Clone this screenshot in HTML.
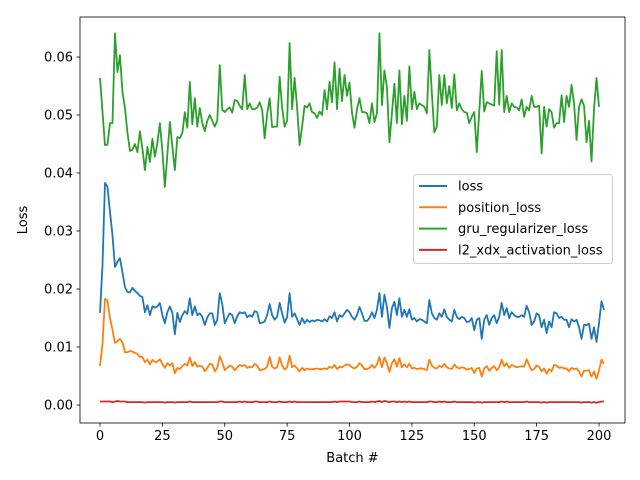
<!DOCTYPE html>
<html><head><meta charset="utf-8"><style>
html,body{margin:0;padding:0;background:#fff;}
svg{display:block;font-family:"DejaVu Sans","Liberation Sans",sans-serif;}
</style></head><body>
<svg id="chart" width="640" height="480" viewBox="0 0 640 480" xmlns="http://www.w3.org/2000/svg">
<rect x="0" y="0" width="640" height="480" fill="#fff"/>
<g id="plot"></g>
</svg>
<script>
const xTicks = [0,25,50,75,100,125,150,175,200];
const yTicks = [0,0.01,0.02,0.03,0.04,0.05,0.06];
const yTickLabels = ["0.00","0.01","0.02","0.03","0.04","0.05","0.06"];
const seriesNames = ["loss","position_loss","gru_regularizer_loss","l2_xdx_activation_loss"];
const lossValues = [.0159,.0241,.0383,.0376,.0333,.0293,.0238,.0247,.0253,.0229,.0203,.0195,.0194,.0202,.0197,.0193,.0188,.0186,.016,.0172,.0155,.017,.0168,.017,.0176,.0155,.0141,.016,.017,.0159,.0122,.0159,.0143,.0155,.0162,.0157,.0184,.0155,.017,.0155,.0158,.0152,.0138,.0151,.0158,.0158,.0138,.0147,.0193,.0174,.0141,
.015,.0158,.0155,.0141,.0153,.016,.0158,.016,.0151,.0155,.0152,.0162,.016,.0141,.0142,.0144,.0155,.0174,.0155,.0147,.0152,.0176,.0158,.0142,.0152,.0193,.0152,.0158,.0148,.0138,.015,.0141,.0147,.0143,.0146,.0144,.0147,.0146,.0144,.0148,.0144,.0153,.015,.016,.0144,.0155,.0152,.0158,.0164,.016,
.0152,.0147,.0155,.0169,.0158,.0145,.0145,.015,.016,.015,.0164,.0193,.0152,.019,.0169,.0133,.0167,.0178,.0155,.0184,.0152,.0164,.0152,.0165,.0147,.015,.0144,.0148,.0147,.0144,.0141,.0181,.0158,.015,.0147,.0158,.0152,.0165,.0152,.0147,.0144,.0164,.0152,.0148,.0152,.015,.0143,.0144,.015,.0129,
.0147,.015,.0114,.0147,.0155,.0138,.015,.0155,.0141,.0152,.0176,.0155,.0167,.015,.016,.0155,.0152,.0152,.0155,.0152,.0171,.016,.0138,.0144,.0158,.0155,.0134,.0147,.0124,.0144,.0134,.016,.0158,.015,.0152,.0147,.0147,.0134,.0148,.0144,.0147,.0134,.0114,.0138,.0138,.014,.0114,.0134,.0109,.0141,.0179,.0164];
const positionValues = [.0067,.0105,.0183,.018,.015,.013,.0107,.011,.0114,.0108,.0091,.0091,.0093,.0092,.009,.0088,.0083,.0083,.0074,.0078,.007,.0078,.0074,.0075,.0079,.0071,.0064,.0072,.0068,.0072,.0055,.0064,.0062,.0067,.0071,.0068,.0082,.0067,.0074,.0066,.0068,.0066,.0058,.0064,.0071,.007,.0058,.0064,.0084,.0074,.006,
.0064,.0068,.0066,.006,.0065,.0069,.0067,.0069,.0064,.0066,.0065,.0071,.0068,.006,.0061,.0062,.0066,.0083,.0066,.0063,.0065,.0082,.0068,.0061,.0065,.0085,.0065,.0068,.0063,.0058,.0064,.006,.0063,.0061,.0062,.0062,.0063,.0062,.0062,.0063,.0062,.0066,.0064,.0069,.0062,.0066,.0065,.0068,.007,.0069,
.0065,.0063,.0066,.0072,.0068,.0062,.0062,.0064,.0069,.0064,.007,.0083,.0065,.0082,.0072,.0057,.0072,.0079,.0066,.0081,.0065,.007,.0065,.0071,.0063,.0064,.0062,.0063,.0063,.0062,.006,.0078,.0068,.0064,.0063,.0068,.0065,.0071,.0065,.0063,.0062,.007,.0065,.0063,.0065,.0064,.0061,.0062,.0064,.0055,
.0063,.0064,.0049,.0063,.0067,.0059,.0064,.0067,.006,.0065,.0078,.0067,.0072,.0064,.0069,.0067,.0065,.0066,.0067,.0066,.0079,.0069,.006,.0062,.0068,.0066,.0058,.0063,.0054,.0062,.0058,.0069,.0068,.0064,.0065,.0063,.0063,.0058,.0064,.0062,.0063,.0058,.0049,.0059,.0059,.006,.0049,.0058,.0045,.006,.0078,.0071];
const gruValues = [.0564,.0505,.0448,.0449,.0486,.0486,.0641,.0574,.0603,.054,.0512,.047,.0438,.044,.045,.0436,.0472,.0442,.0405,.0445,.0419,.0459,.0428,.0452,.0486,.0438,.0376,.0432,.0488,.0445,.0405,.0462,.046,.0469,.0505,.0478,.0557,.0484,.0529,.048,.0512,.0486,.0472,.049,.05,.049,.048,.049,.0586,.0509,.0505,
.051,.0513,.0504,.0526,.0524,.0516,.051,.0569,.051,.052,.051,.051,.0513,.0522,.0508,.046,.0502,.0529,.0479,.048,.048,.0566,.0513,.048,.049,.0624,.051,.0564,.0513,.0448,.048,.0516,.0513,.052,.0505,.0503,.0495,.0506,.05,.0543,.051,.0557,.0522,.0591,.051,.058,.0524,.0569,.0533,.0556,
.0504,.0478,.051,.0529,.0505,.0505,.0503,.0486,.052,.0488,.0503,.0641,.0517,.0577,.0548,.0453,.0503,.0554,.0486,.0577,.0484,.0533,.049,.0584,.051,.054,.051,.052,.0517,.0514,.0503,.0612,.0538,.047,.048,.0569,.0517,.0569,.052,.055,.0512,.057,.0508,.052,.051,.0505,.0504,.0486,.0497,.0505,
.0436,.0505,.0576,.0506,.0522,.052,.0518,.0516,.061,.0518,.0612,.0505,.0533,.0505,.052,.0514,.0513,.0508,.0527,.0497,.0514,.0508,.0533,.0514,.0514,.0516,.0434,.0514,.048,.051,.0505,.0478,.0486,.0486,.0534,.0488,.0533,.0514,.0552,.052,.0457,.0514,.0527,.0516,.0453,.049,.042,.051,.0564,.0514];
const l2Values = [.0006,.0006,.0006,.0006,.0006,.0005,.0006,.0007,.0006,.0006,.0006,.0005,.0005,.0005,.0005,.0005,.0005,.0005,.0004,.0005,.0005,.0005,.0005,.0005,.0005,.0005,.0004,.0005,.0005,.0005,.0004,.0005,.0005,.0005,.0005,.0005,.0006,.0005,.0005,.0005,.0005,.0005,.0005,.0005,.0005,.0005,.0005,.0005,.0006,.0006,.0005,
.0005,.0005,.0005,.0005,.0005,.0006,.0005,.0006,.0005,.0005,.0005,.0006,.0006,.0005,.0005,.0005,.0005,.0006,.0005,.0005,.0005,.0006,.0005,.0005,.0005,.0006,.0005,.0006,.0005,.0005,.0005,.0005,.0005,.0005,.0005,.0005,.0005,.0005,.0005,.0005,.0005,.0005,.0005,.0006,.0005,.0006,.0006,.0006,.0006,.0006,
.0005,.0005,.0005,.0006,.0005,.0005,.0005,.0005,.0006,.0005,.0006,.0007,.0005,.0007,.0006,.0005,.0006,.0006,.0005,.0006,.0005,.0006,.0005,.0006,.0005,.0005,.0005,.0005,.0005,.0005,.0005,.0006,.0006,.0005,.0005,.0006,.0005,.0006,.0005,.0005,.0005,.0006,.0005,.0005,.0005,.0005,.0005,.0005,.0005,.0004,
.0005,.0005,.0004,.0005,.0005,.0005,.0005,.0005,.0005,.0005,.0006,.0005,.0006,.0005,.0005,.0005,.0005,.0005,.0005,.0005,.0006,.0005,.0005,.0005,.0005,.0005,.0004,.0005,.0004,.0005,.0005,.0005,.0005,.0005,.0005,.0005,.0005,.0005,.0005,.0005,.0005,.0005,.0004,.0005,.0005,.0005,.0004,.0005,.0004,.0005,.0006,.0006];

const NS = "http://www.w3.org/2000/svg";
const L = 80, R = 625, T = 17, B = 423;
const xScale = v => 100 + v * 2.495;
const yScale = v => 405 - v * 5800;
const plot = document.getElementById('plot');
function mk(tag, attrs, parent) {
  const el = document.createElementNS(NS, tag);
  for (const k in attrs) el.setAttribute(k, attrs[k]);
  (parent || plot).appendChild(el);
  return el;
}
const colors = ["#1f77b4","#ff7f0e","#2ca02c","#d62728"];
const allSeries = [lossValues, positionValues, gruValues, l2Values];
const slugs = ["loss-line","position-loss-line","gru-regularizer-loss-line","l2-xdx-activation-loss-line"];
allSeries.forEach((vals, s) => {
  const d = vals.map((v, i) => (i ? "L" : "M") + xScale(i).toFixed(2) + "," + yScale(v).toFixed(2)).join(" ");
  const p = mk('path', {d: d, fill: "none", stroke: colors[s], "stroke-width": 1.8, "stroke-linejoin": "round"});
  
  
});
const frame = mk('rect', {x: L, y: T, width: R - L, height: B - T, fill: "none", stroke: "#000", "stroke-width": 0.8});


xTicks.forEach(t => {
  const x = xScale(t);
  const tk = mk('line', {x1: x, x2: x, y1: B, y2: B + 3.5, stroke: "#000", "stroke-width": 0.8});
  
  
  const tx = mk('text', {x: x, y: B + 17, "font-size": 13, "text-anchor": "middle", fill: "#000"});
  tx.textContent = String(t);
  
  
});
yTicks.forEach((t, i) => {
  const y = yScale(t);
  const tk = mk('line', {x1: L - 3.5, x2: L, y1: y, y2: y, stroke: "#000", "stroke-width": 0.8});
  
  
  const tx = mk('text', {x: L - 7, y: y + 4.5, "font-size": 13, "text-anchor": "end", fill: "#000"});
  tx.textContent = yTickLabels[i];
  
  
});
const xt = mk('text', {x: (L + R) / 2, y: 462, "font-size": 13, "text-anchor": "middle"});
xt.textContent = "Batch #";


const yt = mk('text', {x: 27, y: (T + B) / 2, "font-size": 13, "text-anchor": "middle", transform: "rotate(-90 27 " + (T + B) / 2 + ")"});
yt.textContent = "Loss";


const lg = mk('g', {});


mk('rect', {x: 413.5, y: 174.5, width: 199, height: 89, rx: 3, fill: "#fff", "fill-opacity": 0.8, stroke: "#ccc", "stroke-width": 1}, lg);
seriesNames.forEach((n, i) => {
  const y = 186 + i * 21.3;
  const e = mk('g', {}, lg);
  
  
  mk('line', {x1: 419, x2: 447, y1: y, y2: y, stroke: colors[i], "stroke-width": 2}, e);
  const t = mk('text', {x: 458, y: y + 4.5, "font-size": 13}, e);
  t.textContent = n;
});
</script>
</body></html>
